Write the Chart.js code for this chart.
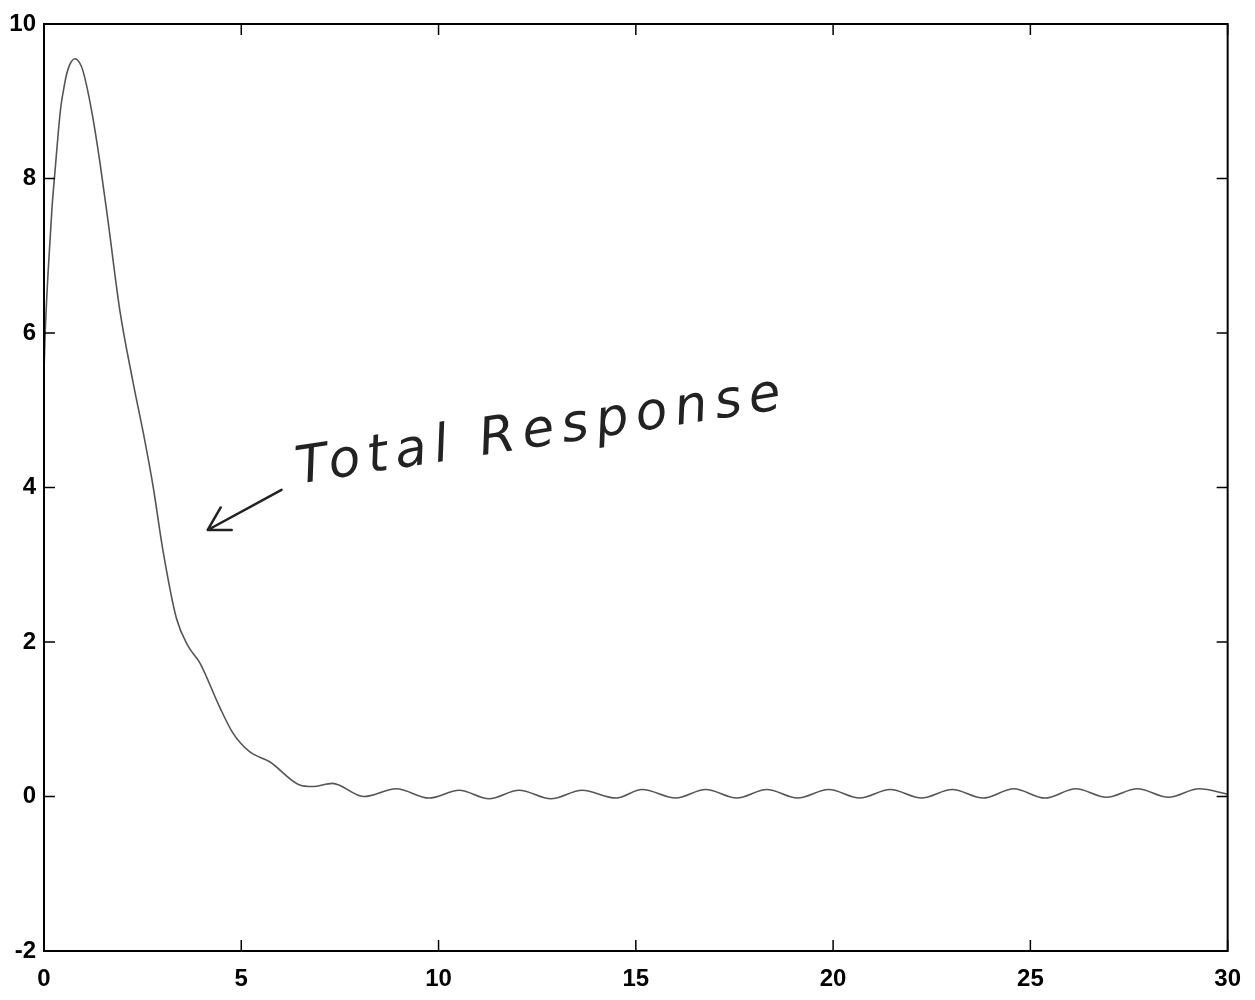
<!DOCTYPE html>
<html>
<head>
<meta charset="utf-8">
<script src="https://cdn.jsdelivr.net/npm/chart.js@4.4.1/dist/chart.umd.min.js"></script>
<style>
  html, body { margin: 0; padding: 0; background: #fff; }
  #wrap { width: 1255px; height: 1000px; }
</style>
</head>
<body>
<div id="wrap"><canvas id="myChart" width="1255" height="1000"></canvas></div>
<script>
  // time axis (x) and response values
  var time = [0, 0.03, 0.1, 0.2, 0.28, 0.42, 0.5, 0.56, 0.65, 0.78, 0.9, 0.99, 1.21, 1.42, 1.62, 1.92,
    2.25, 2.55, 2.77, 3.01, 3.36, 3.65, 3.95, 4.45, 4.79, 5.21, 5.72, 6.48, 6.8, 7.31, 8.1, 8.93,
    9.76, 10.52, 11.28, 12.04, 12.85, 13.64, 14.5, 15.16, 16.01, 16.77, 17.56, 18.32, 19.1,
    19.89, 20.67, 21.45, 22.24, 23.02, 23.8, 24.58, 25.37, 26.15, 26.93, 27.71, 28.5, 29.28, 30];
  var response = [5.5, 6.0, 6.75, 7.6, 8.1, 8.9, 9.16, 9.32, 9.47, 9.55, 9.5, 9.39, 8.87, 8.2, 7.46, 6.3,
    5.38, 4.62, 4.0, 3.2, 2.3, 1.95, 1.73, 1.16, 0.82, 0.58, 0.45, 0.15, 0.13, 0.17, 0.0, 0.1,
    -0.02, 0.08, -0.03, 0.08, -0.03, 0.08, -0.02, 0.09, -0.02, 0.09, -0.02, 0.09, -0.02,
    0.09, -0.02, 0.09, -0.02, 0.09, -0.02, 0.1, -0.02, 0.1, -0.01, 0.1, -0.01, 0.1, 0.03];

  var xTicks = [0, 5, 10, 15, 20, 25, 30];
  var yTicks = [-2, 0, 2, 4, 6, 8, 10];

  // handwritten note and its arrow (data coords)
  var noteText = 'Total Response';
  var noteAt = [6.45, 4.05];
  var arrowTail = [6.02, 3.97];
  var arrowTip = [4.15, 3.45];

  // MATLAB style box with inward ticks on all four sides
  var framePlugin = {
    id: 'frame',
    afterDraw: function(chart) {
      var ctx = chart.ctx, a = chart.chartArea;
      var xs = chart.scales.x, ys = chart.scales.y;
      ctx.save();
      ctx.strokeStyle = '#000';
      ctx.lineWidth = 2;
      ctx.strokeRect(a.left, a.top, a.right - a.left, a.bottom - a.top);
      ctx.lineWidth = 1.5;
      ctx.beginPath();
      xTicks.forEach(function(v) {
        var px = xs.getPixelForValue(v);
        ctx.moveTo(px, a.top); ctx.lineTo(px, a.top + 11);
        ctx.moveTo(px, a.bottom); ctx.lineTo(px, a.bottom - 11);
      });
      yTicks.forEach(function(v) {
        var py = ys.getPixelForValue(v);
        ctx.moveTo(a.left, py); ctx.lineTo(a.left + 11, py);
        ctx.moveTo(a.right, py); ctx.lineTo(a.right - 11, py);
      });
      ctx.stroke();
      ctx.restore();
    }
  };

  var notePlugin = {
    id: 'note',
    afterDatasetsDraw: function(chart) {
      var ctx = chart.ctx;
      var xs = chart.scales.x, ys = chart.scales.y;
      var tx = xs.getPixelForValue(arrowTail[0]), ty = ys.getPixelForValue(arrowTail[1]);
      var hx = xs.getPixelForValue(arrowTip[0]), hy = ys.getPixelForValue(arrowTip[1]);
      ctx.save();
      ctx.strokeStyle = '#222';
      ctx.lineWidth = 2.5;
      ctx.lineCap = 'round';
      ctx.beginPath();
      ctx.moveTo(tx, ty); ctx.lineTo(hx, hy);
      var ang = Math.atan2(ty - hy, tx - hx);
      ctx.moveTo(hx, hy); ctx.lineTo(hx + 26 * Math.cos(ang - 0.55), hy + 26 * Math.sin(ang - 0.55));
      ctx.moveTo(hx, hy); ctx.lineTo(hx + 24 * Math.cos(ang + 0.5), hy + 24 * Math.sin(ang + 0.5));
      ctx.stroke();

      // the note text, slanted upward like the handwriting
      var nx = xs.getPixelForValue(noteAt[0]), ny = ys.getPixelForValue(noteAt[1]);
      ctx.translate(nx, ny);
      ctx.rotate(-8.8 * Math.PI / 180);
      ctx.font = 'italic 52px "DejaVu Sans"';
      ctx.fillStyle = '#222';
      ctx.textBaseline = 'alphabetic';
      var w = ctx.measureText(noteText).width;
      ctx.letterSpacing = Math.max(0, (490 - w) / 13) + 'px';
      ctx.fillText(noteText, 0, 0);
      ctx.restore();
    }
  };

  var tickFont = { family: '"Liberation Sans", Arial, sans-serif', size: 24, weight: 'bold' };

  var ctx = document.getElementById('myChart').getContext('2d');
  var myChart = new Chart(ctx, {
    type: 'line',
    data: {
      datasets: [{
        data: time.map(function(t, i) { return { x: t, y: response[i] }; }),
        borderColor: '#555',
        borderWidth: 1.6,
        pointRadius: 0,
        fill: false,
        cubicInterpolationMode: 'monotone'
      }]
    },
    options: {
      responsive: false,
      animation: false,
      layout: { padding: { top: 24, right: 25, left: 0, bottom: 0 } },
      plugins: { legend: { display: false }, tooltip: { enabled: false } },
      scales: {
        x: {
          type: 'linear',
          min: 0, max: 30,
          afterBuildTicks: function(s) { s.ticks = xTicks.map(function(v) { return { value: v }; }); },
          afterFit: function(s) { s.height = 49; },
          grid: { display: false, drawTicks: false },
          border: { display: false },
          ticks: { color: '#000', font: tickFont, padding: 14, maxRotation: 0 }
        },
        y: {
          min: -2, max: 10,
          afterBuildTicks: function(s) { s.ticks = yTicks.map(function(v) { return { value: v }; }); },
          afterFit: function(s) { s.width = 44; },
          grid: { display: false, drawTicks: false },
          border: { display: false },
          ticks: { color: '#000', font: tickFont, padding: 8 }
        }
      }
    },
    plugins: [framePlugin, notePlugin]
  });
</script>
</body>
</html>
